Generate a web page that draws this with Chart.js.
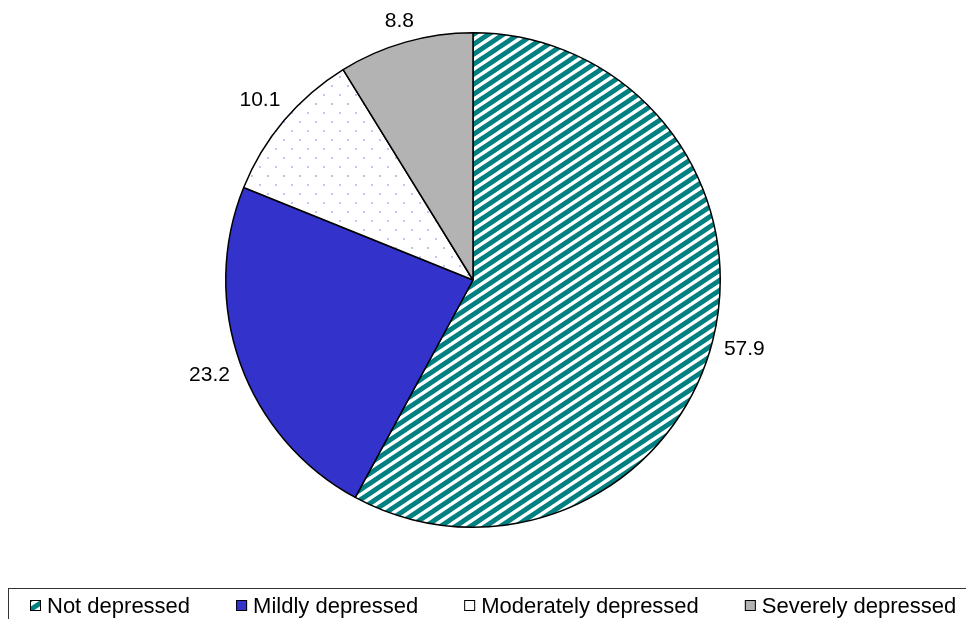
<!DOCTYPE html>
<html>
<head>
<meta charset="utf-8">
<script src="https://cdn.jsdelivr.net/npm/chart.js@4.4.0/dist/chart.umd.min.js"></script>
<style>
  html, body { margin: 0; padding: 0; background: #fff; }
  canvas { display: block; }
</style>
</head>
<body>
<canvas id="myChart" width="966" height="619"></canvas>
<script>
// data (percent)
var categories = ['Not depressed', 'Mildly depressed', 'Moderately depressed', 'Severely depressed'];
var values = [57.9, 23.2, 10.1, 8.8];

// fill patterns
function stripePattern() {
    var c = document.createElement('canvas');
    c.width = 15; c.height = 10;
    var g = c.getContext('2d');
    g.fillStyle = '#fff';
    g.fillRect(0, 0, 15, 10);
    g.strokeStyle = '#008080';
    g.lineWidth = 4.8;
    [-10, 0, 10].forEach(function (dy) {
        g.beginPath();
        g.moveTo(-15, 20 + dy);
        g.lineTo(30, -10 + dy);
        g.stroke();
    });
    return g.createPattern(c, 'repeat');
}

function dotPattern() {
    var c = document.createElement('canvas');
    c.width = 16; c.height = 18;
    var g = c.getContext('2d');
    g.fillStyle = '#fff';
    g.fillRect(0, 0, 16, 18);
    g.fillStyle = '#c4c4f4';
    g.fillRect(3, 4, 2, 2);
    g.fillRect(11, 13, 2, 2);
    return g.createPattern(c, 'repeat');
}

var fills = [stripePattern(), '#3333cc', dotPattern(), '#b3b3b3'];

// value labels outside the slices
var outsideLabels = {
    id: 'outsideLabels',
    afterDatasetsDraw: function (chart) {
        var ctx = chart.ctx;
        var meta = chart.getDatasetMeta(0);
        ctx.save();
        ctx.font = '21px "Liberation Sans", Arial, sans-serif';
        ctx.fillStyle = '#000';
        ctx.textAlign = 'center';
        ctx.textBaseline = 'middle';
        meta.data.forEach(function (arc, i) {
            var p = arc.getProps(['x', 'y', 'startAngle', 'endAngle', 'outerRadius'], true);
            var mid = (p.startAngle + p.endAngle) / 2;
            var txt = values[i].toFixed(1);
            var w = ctx.measureText(txt).width;
            var h = 15;
            var off = 11 + Math.abs(Math.cos(mid)) * w / 2 + Math.abs(Math.sin(mid)) * h / 2;
            var r = p.outerRadius + off;
            ctx.fillText(txt, p.x + Math.cos(mid) * r, p.y + Math.sin(mid) * r);
        });
        ctx.restore();
    }
};

// boxed legend along the bottom
var boxLegend = {
    id: 'boxLegend',
    afterDraw: function (chart) {
        var ctx = chart.ctx;
        ctx.save();
        ctx.strokeStyle = '#333';
        ctx.lineWidth = 1;
        ctx.strokeRect(8.5, 588.5, 1000, 100);

        ctx.font = '22px "Liberation Sans", Arial, sans-serif';
        ctx.textBaseline = 'middle';
        ctx.textAlign = 'left';
        var x = 30, gap = 46, yc = 606;
        chart.data.labels.forEach(function (lab, i) {
            ctx.fillStyle = chart.data.datasets[0].backgroundColor[i];
            ctx.fillRect(x, yc - 6, 11, 11);
            ctx.strokeStyle = '#000';
            ctx.strokeRect(x + 0.5, yc - 5.5, 10, 10);
            ctx.fillStyle = '#000';
            ctx.fillText(lab, x + 17, yc + 1);
            x += 17 + ctx.measureText(lab).width + gap;
        });
        ctx.restore();
    }
};

var ctx = document.getElementById('myChart').getContext('2d');
var myChart = new Chart(ctx, {
    type: 'pie',
    data: {
        labels: categories,
        datasets: [{
            data: values,
            backgroundColor: fills,
            borderColor: '#000',
            borderWidth: 1.5
        }]
    },
    options: {
        responsive: false,
        animation: false,
        devicePixelRatio: 1,
        layout: { padding: { top: 32, bottom: 91, left: 0, right: 20 } },
        plugins: {
            legend: { display: false },
            tooltip: { enabled: false }
        }
    },
    plugins: [outsideLabels, boxLegend]
});
</script>
</body>
</html>
